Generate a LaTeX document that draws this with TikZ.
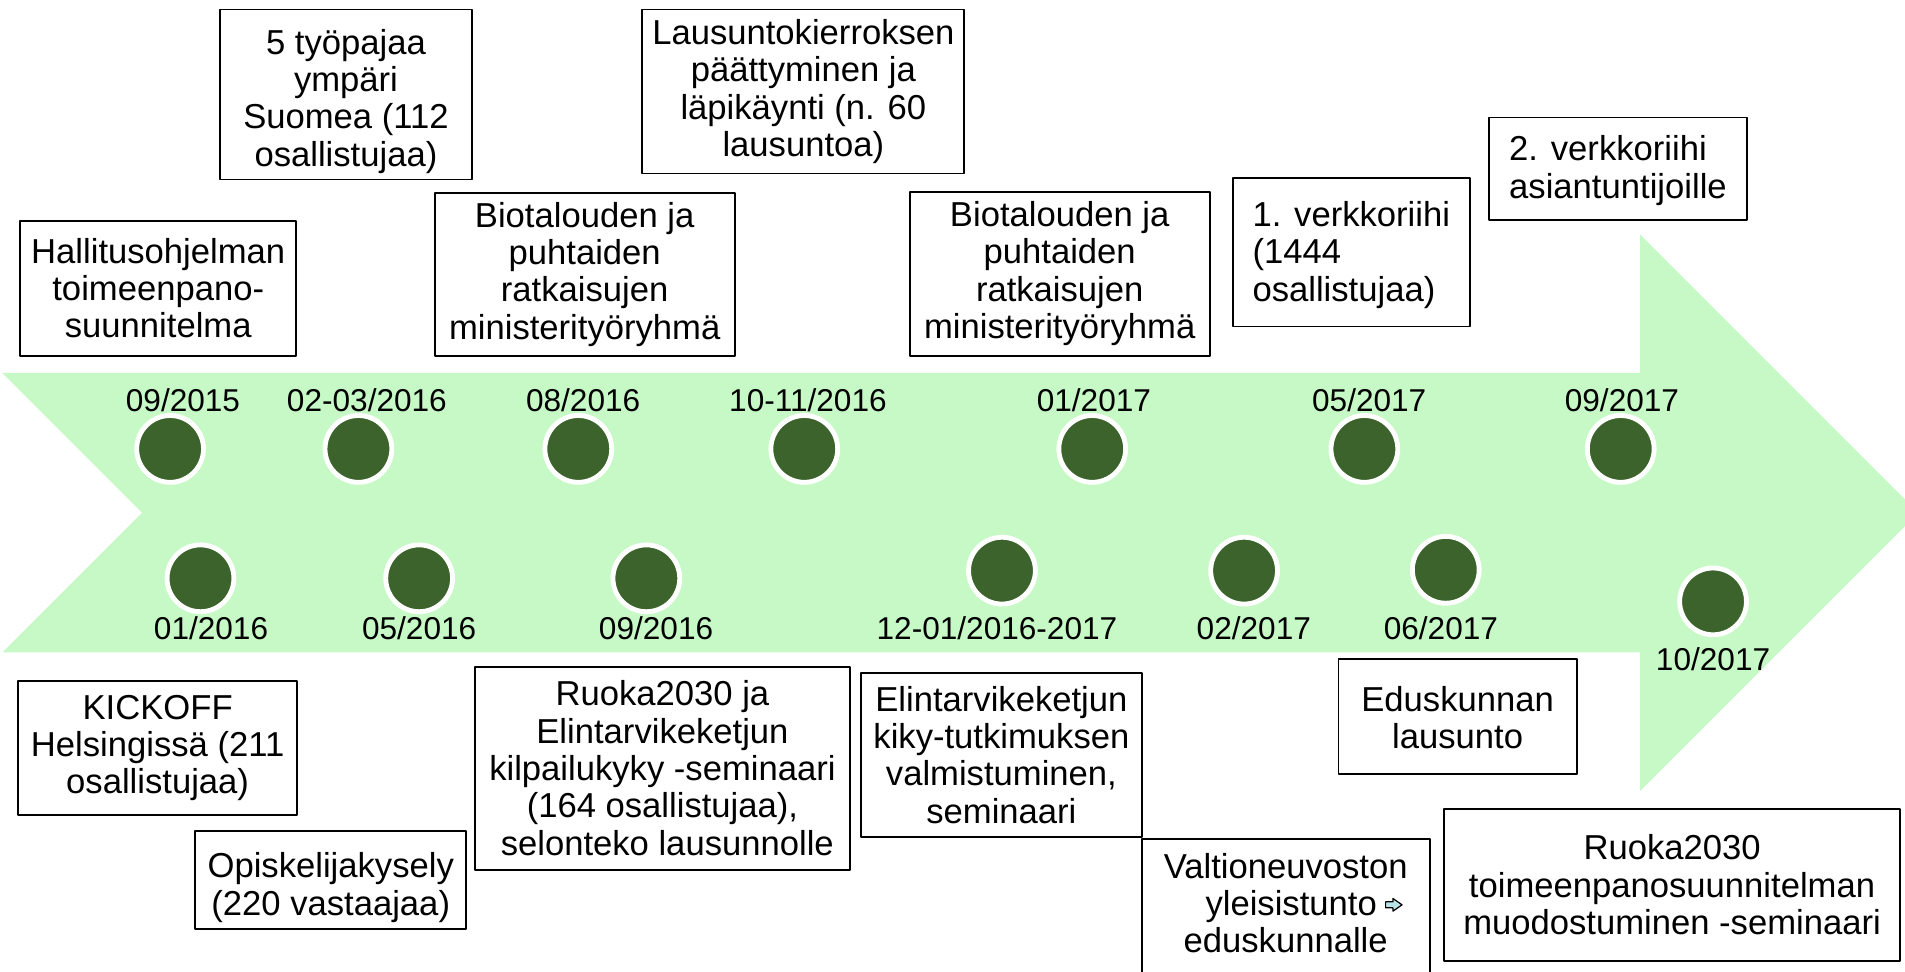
\documentclass[tikz,border=0pt]{standalone}
\usepackage{fontspec}
\setmainfont{Liberation Sans}
\usepackage{tikz}
\definecolor{bandgreen}{RGB}{198,249,198}
\definecolor{dotgreen}{RGB}{59,99,43}
\definecolor{tipcyan}{RGB}{183,228,232}

\begin{document}
\begin{tikzpicture}[line cap=round,line join=round,x=1pt,y=-1pt,
  evbox/.style={draw=black,line width=1.5pt,fill=white,inner sep=0pt,anchor=north west,align=center,font=\fontsize{28.5}{30.7}\selectfont},
  dot/.style={circle,fill=dotgreen,draw=white,line width=4pt,minimum size=55pt,inner sep=0pt},
  datum/.style={anchor=base,inner sep=0pt,font=\fontsize{26}{28}\selectfont}]
\useasboundingbox (0,0) rectangle (1568,800);
\clip (0,0) rectangle (1568,800);
\fill [bandgreen] (2,307) -- (1350,307) -- (1350,193) -- (1579,422) -- (1350,651) -- (1350,537) -- (2,537) -- (117,422) -- cycle;
% ylarivi
\node[dot] (d1) at (140,369.5) {};
\node[dot] (d2) at (295,369.5) {};
\node[dot] (d3) at (476,369.5) {};
\node[dot] (d4) at (662,369.5) {};
\node[dot] (d5) at (899,369.5) {};
\node[dot] (d6) at (1123,369.5) {};
\node[dot] (d7) at (1334,369.5) {};
\node[datum] (t1) at (150.6,338.5) {09/2015};
\node[datum] (t2) at (302,338.5) {02-03/2016};
\node[datum] (t3) at (480,338.5) {08/2016};
\node[datum] (t4) at (665,338.5) {10-11/2016};
\node[datum] (t5) at (900.4,338.5) {01/2017};
\node[datum] (t6) at (1127,338.5) {05/2017};
\node[datum] (t7) at (1335,338.5) {09/2017};
% alarivi
\node[dot] (e1) at (165,476) {};
\node[dot] (e2) at (345,476) {};
\node[dot] (e3) at (532,476) {};
\node[dot] (e4) at (824.7,469.7) {};
\node[dot] (e5) at (1024,469.7) {};
\node[dot] (e6) at (1190,469) {};
\node[dot] (e7) at (1410,495) {};
\node[datum] (b1) at (173.7,526.5) {01/2016};
\node[datum] (b2) at (345,526.5) {05/2016};
\node[datum] (b3) at (540,526.5) {09/2016};
\node[datum] (b4) at (820.6,526.5) {12-01/2016-2017};
\node[datum] (b5) at (1032,526.5) {02/2017};
\node[datum] (b6) at (1186,526.5) {06/2017};
\node[datum] (b7) at (1410,552) {10/2017};
% laatikot ylhaalla
\node[evbox,minimum width=227,minimum height=111] (hallitus) at (16,181) {Hallitusohjelman\\toimeenpano-\\suunnitelma};
\node[evbox,minimum width=208,minimum height=140] (tyopajat) at (180,7) {\rule{0pt}{32pt}5 työpajaa\\ympäri\\Suomea (112\\osallistujaa)};
\node[evbox,minimum width=247,minimum height=134] (mtr1) at (357,158) {Biotalouden ja\\puhtaiden\\ratkaisujen\\ministerityöryhmä};
\node[evbox,minimum width=265,minimum height=135] (lausunto) at (528,7) {Lausuntokierroksen\\päättyminen ja\\läpikäynti (n. 60\\lausuntoa)};
\node[evbox,minimum width=247,minimum height=135] (mtr2) at (748,157) {Biotalouden ja\\puhtaiden\\ratkaisujen\\ministerityöryhmä};
\node[evbox,align=left,minimum width=195,minimum height=122] (riihi1) at (1014,146) {\rule{0pt}{25pt}1. verkkoriihi\\(1444\\osallistujaa)};
\node[evbox,align=left,minimum width=212,minimum height=84] (riihi2) at (1225,96) {\rule{0pt}{24pt}2. verkkoriihi\\asiantuntijoille};
% laatikot alhaalla
\node[evbox,minimum width=230,minimum height=110] (kickoff) at (14,560) {KICKOFF\\Helsingissä (211\\osallistujaa)};
\node[evbox,minimum width=223,minimum height=81] (kysely) at (160,683) {\rule{0pt}{33pt}Opiskelijakysely\\(220 vastaajaa)};
\node[evbox,minimum width=309,minimum height=167] (seminaari1) at (390,548) {Ruoka2030 ja\\Elintarvikeketjun\\kilpailukyky -seminaari\\(164 osallistujaa),\\\hspace*{0.28em}selonteko lausunnolle};
\node[evbox,minimum width=231,minimum height=135] (kiky) at (708,553) {Elintarvikeketjun\\kiky-tutkimuksen\\valmistuminen,\\seminaari};
\node[evbox,minimum width=237,minimum height=130] (vn) at (939,690) {Valtioneuvoston\\\hspace*{9pt}yleisistunto\hspace*{41pt}\\eduskunnalle\rule[-25pt]{0pt}{0pt}};
\filldraw[fill=tipcyan,draw=black,line width=1pt] (1140.5,742.3) -- (1146.5,742.3) -- (1146.5,739.5) -- (1154,744.75) -- (1146.5,750) -- (1146.5,747.2) -- (1140.5,747.2) -- cycle;
\node[evbox,minimum width=196,minimum height=94] (eduskunta) at (1101,542) {\rule{0pt}{23pt}Eduskunnan\\lausunto};
\node[evbox,minimum width=375,minimum height=125] (seminaari2) at (1188,665) {Ruoka2030\\toimeenpanosuunnitelman\\muodostuminen -seminaari};
\end{tikzpicture}
\end{document}
